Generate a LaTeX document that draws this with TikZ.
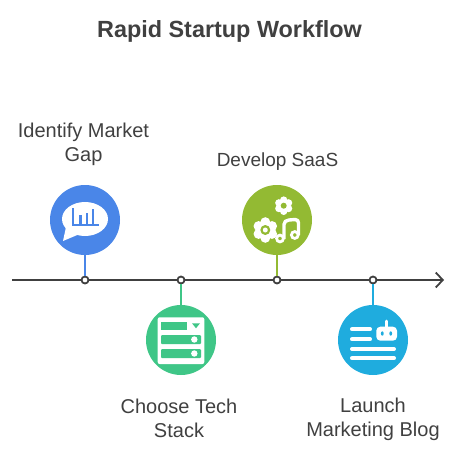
\documentclass[tikz,border=0pt]{standalone}
\usepackage{fontspec}
\setmainfont{Liberation Sans}
\usetikzlibrary{arrows.meta}
\definecolor{inktext}{HTML}{404040}
\definecolor{blueone}{HTML}{4A86E8}
\definecolor{greentwo}{HTML}{3FC687}
\definecolor{limethree}{HTML}{93BA33}
\definecolor{skyfour}{HTML}{1FACDE}
\tikzset{
  stepdisc/.style={circle,inner sep=0pt,minimum size=70pt},
  stepdot/.style={circle,draw=inktext,fill=white,line width=1.8pt,inner sep=0pt,minimum size=7pt},
  steplabel/.style={font=\fontsize{20}{24}\selectfont,text=inktext,align=center},
  stemline/.style={line width=2pt},
}
\begin{document}
\begin{tikzpicture}[x=1pt,y=-1pt]
\useasboundingbox (0,0) rectangle (458,460);
\node[font=\fontsize{23.4}{28}\selectfont\bfseries,text=inktext] (title) at (229.5,31) {Rapid Startup Workflow};
% timeline
\coordinate (linestart) at (12,280);
\coordinate (lineend) at (444,280);
\draw[inktext,line width=1.8pt,-{Straight Barb[length=7pt,width=15pt,line width=1.8pt]}] (linestart) -- (lineend);
% stages
\node[stepdisc,fill=blueone] (gapdisc) at (85,220) {};
\node[stepdisc,fill=limethree] (saasdisc) at (277,220) {};
\node[stepdisc,fill=greentwo] (stackdisc) at (181,340) {};
\node[stepdisc,fill=skyfour] (blogdisc) at (373,340) {};
\node[stepdot] (gapdot) at (85,280) {};
\node[stepdot] (stackdot) at (181,280) {};
\node[stepdot] (saasdot) at (277,280) {};
\node[stepdot] (blogdot) at (373,280) {};
\draw[stemline,blueone] (gapdisc) -- (gapdot);
\draw[stemline,greentwo] (stackdisc) -- (stackdot);
\draw[stemline,limethree] (saasdisc) -- (saasdot);
\draw[stemline,skyfour] (blogdisc) -- (blogdot);
\node[steplabel] (gaplabel) at (83.5,144.5) {Identify Market\\Gap};
\node[steplabel,font=\fontsize{19}{24}\selectfont] (saaslabel) at (277.5,162) {Develop SaaS};
\node[steplabel] (stacklabel) at (179,418) {Choose Tech\\Stack};
\node[steplabel] (bloglabel) at (373,419.5) {Launch\\Marketing Blog};
% chat icon
\fill[white] (85,219) ellipse (23 and 17);
\fill[white] (66,227) -- (63,241) -- (82,233) -- cycle;
\draw[blueone,line width=2pt] (73.3,208) -- (73.3,225) -- (98.5,225);
\foreach \barx/\bartop in {80.5/215,87/213,93/209}
  \draw[blueone,line width=2.2pt] (\barx,\bartop) -- (\barx,225);
% gears and note icon
\foreach \ang in {0,60,...,300} {
  \fill[white] (283.7,205.7) ++(\ang+30:5.6) circle (3.7);
  \fill[white] (265.3,230) ++(\ang+30:7.8) circle (5);
}
\fill[white] (283.7,205.7) circle (6);
\fill[white] (265.3,230) circle (8.5);
\fill[limethree] (283.7,205.7) circle (3);
\fill[limethree] (265.3,230) circle (5);
\fill[white] (265.3,230) circle (2.5);
\draw[white,line width=3.4pt,line join=round] (284,239) -- (284,224.5) .. controls (284,221.5) and (286,220.5) .. (289,220) -- (295,219.5) .. controls (297.5,219.5) and (298.5,221) .. (298.5,223) -- (298.5,235);
\draw[white,line width=2.8pt] (280,238.5) circle (3.4);
\draw[white,line width=2.8pt] (294.8,235) circle (3.4);
% stack icon
\fill[white,rounded corners=2pt] (157.7,317.3) rectangle (204.3,364);
\fill[greentwo] (161,321.7) rectangle (187,330);
\fill[greentwo] (192,323.3) -- (200,323.3) -- (196,328.3) -- cycle;
\fill[greentwo,rounded corners=1pt] (161,335) rectangle (201,344);
\fill[greentwo,rounded corners=1pt] (161,349) rectangle (201,358);
\fill[white] (194.3,339.5) circle (3.2);
\fill[white] (194.3,353.5) circle (3.2);
% robot and text icon
\draw[white,line width=4pt,line cap=round] (352,329.3) -- (370,329.3);
\draw[white,line width=4pt,line cap=round] (352,339.3) -- (370,339.3);
\draw[white,line width=4pt,line cap=round] (352,349) -- (394,349);
\draw[white,line width=4pt,line cap=round] (352,358.3) -- (394,358.3);
\fill[white,rounded corners=4pt] (376.3,326.7) rectangle (397,340.7);
\draw[white,line width=2.6pt,line cap=round] (386.5,321) -- (386.5,327);
\fill[skyfour] (382.3,333.5) ellipse (1.4 and 2.2);
\fill[skyfour] (390.7,333.5) ellipse (1.4 and 2.2);
\end{tikzpicture}
\end{document}
